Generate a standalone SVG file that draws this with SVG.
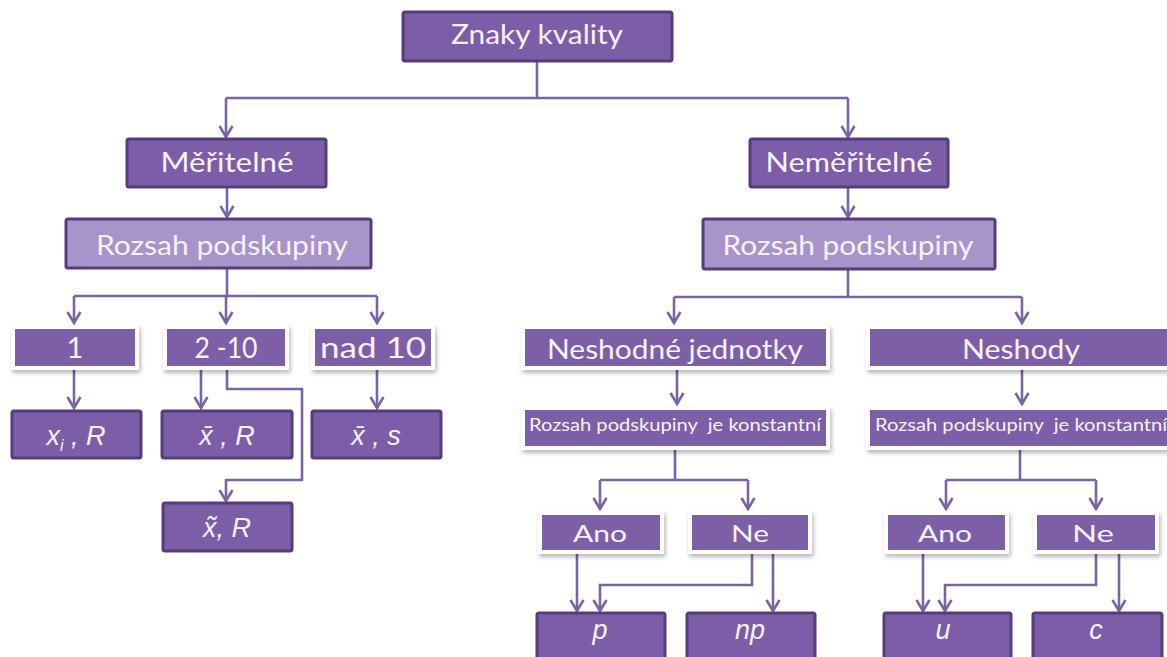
<svg xmlns="http://www.w3.org/2000/svg" width="1167" height="657" viewBox="0 0 1167 657">
<defs>
<style>
.dk{fill:#7b5ea7;stroke:#563c7c;stroke-width:3}
.lt{fill:#a894c9;stroke:#563c7c;stroke-width:3}
.wb{fill:#7b5ea7;stroke:#ffffff;stroke-width:4;filter:url(#sh)}
.t{font-family:Lato,"Liberation Sans",sans-serif;fill:#f7f1fa;text-anchor:middle}
.it{font-family:"Liberation Sans","DejaVu Sans",sans-serif;font-style:italic;font-size:27px;fill:#f7f1fa;text-anchor:middle}
.c{fill:none;stroke:#7a64a2;stroke-width:2.6}
</style>
<filter id="sh" x="-10%" y="-20%" width="120%" height="150%">
<feDropShadow dx="1.5" dy="3" stdDeviation="2" flood-color="#000" flood-opacity="0.28"/>
</filter>
<marker id="ah" viewBox="-13 -8 15 16" refX="0" refY="0" markerWidth="15" markerHeight="16" markerUnits="userSpaceOnUse" orient="auto">
<path d="M-11,-6.5 L0,0 L-11,6.5" fill="none" stroke="#7a64a2" stroke-width="2.6"/>
</marker>
</defs>
<rect width="1167" height="657" fill="#ffffff"/>

<g id="connectors">
<path class="c" d="M537,61 V98"/>
<path class="c" d="M226,98 H848"/>
<path class="c" d="M226,98 V137" marker-end="url(#ah)"/>
<path class="c" d="M848,98 V137" marker-end="url(#ah)"/>
<path class="c" d="M227,187 V217" marker-end="url(#ah)"/>
<path class="c" d="M848,187 V217" marker-end="url(#ah)"/>
<path class="c" d="M227,268 V296"/>
<path class="c" d="M74,296 H377"/>
<path class="c" d="M74,296 V323" marker-end="url(#ah)"/>
<path class="c" d="M226,296 V323" marker-end="url(#ah)"/>
<path class="c" d="M377,296 V323" marker-end="url(#ah)"/>
<path class="c" d="M74,369 V408" marker-end="url(#ah)"/>
<path class="c" d="M201,369 V408" marker-end="url(#ah)"/>
<path class="c" d="M377,369 V408" marker-end="url(#ah)"/>
<path class="c" d="M227,369 V389 H302 V480 H226 V501" marker-end="url(#ah)"/>
<path class="c" d="M848,269 V297"/>
<path class="c" d="M674,297 H1022"/>
<path class="c" d="M674,297 V323" marker-end="url(#ah)"/>
<path class="c" d="M1022,297 V323" marker-end="url(#ah)"/>
<path class="c" d="M677,369 V404" marker-end="url(#ah)"/>
<path class="c" d="M1022,369 V404" marker-end="url(#ah)"/>
<path class="c" d="M675,449 V480"/>
<path class="c" d="M600,480 H748"/>
<path class="c" d="M600,480 V509" marker-end="url(#ah)"/>
<path class="c" d="M748,480 V509" marker-end="url(#ah)"/>
<path class="c" d="M577,553 V611" marker-end="url(#ah)"/>
<path class="c" d="M752,553 V585 H600 V611" marker-end="url(#ah)"/>
<path class="c" d="M773,553 V611" marker-end="url(#ah)"/>
<path class="c" d="M1020,449 V480"/>
<path class="c" d="M946,480 H1096"/>
<path class="c" d="M946,480 V509" marker-end="url(#ah)"/>
<path class="c" d="M1096,480 V509" marker-end="url(#ah)"/>
<path class="c" d="M923,553 V611" marker-end="url(#ah)"/>
<path class="c" d="M1096,553 V585 H945 V611" marker-end="url(#ah)"/>
<path class="c" d="M1119,553 V611" marker-end="url(#ah)"/>
</g>

<g id="znaky-kvality">
<rect class="dk" x="403" y="12" width="269" height="49" rx="2"/>
<text class="t" font-size="26" x="537" y="44" textLength="172" lengthAdjust="spacingAndGlyphs">Znaky kvality</text>
</g>
<g id="meritelne">
<rect class="dk" x="127" y="139" width="199" height="48" rx="2"/>
<text class="t" font-size="27" x="227" y="172" textLength="133" lengthAdjust="spacingAndGlyphs">Měřitelné</text>
</g>
<g id="nemeritelne">
<rect class="dk" x="750" y="139" width="198" height="48" rx="2"/>
<text class="t" font-size="27" x="849" y="172" textLength="167" lengthAdjust="spacingAndGlyphs">Neměřitelné</text>
</g>
<g id="rozsah-left">
<rect class="lt" x="66" y="219" width="305" height="49" rx="2"/>
<text class="t" font-size="27" x="222" y="255" textLength="252" lengthAdjust="spacingAndGlyphs">Rozsah podskupiny</text>
</g>
<g id="rozsah-right">
<rect class="lt" x="703" y="219" width="292" height="50" rx="2"/>
<text class="t" font-size="27" x="848" y="255" textLength="251" lengthAdjust="spacingAndGlyphs">Rozsah podskupiny</text>
</g>
<g id="n1">
<rect class="wb" x="13" y="327" width="124" height="41"/>
<text class="t" font-size="29" x="75" y="358">1</text>
</g>
<g id="n2-10">
<rect class="wb" x="165" y="327" width="122" height="41"/>
<text class="t" font-size="29" x="226" y="358" textLength="63" lengthAdjust="spacingAndGlyphs">2 -10</text>
</g>
<g id="nad10">
<rect class="wb" x="313" y="327" width="120" height="41"/>
<text class="t" font-size="29" x="373" y="358" textLength="106" lengthAdjust="spacingAndGlyphs">nad 10</text>
</g>
<g id="xi-R">
<rect class="dk" x="12" y="411" width="129" height="47" rx="2"/>
<text class="it" x="76" y="445">x<tspan font-size="16" dy="6">i</tspan><tspan dy="-6"> , R</tspan></text>
</g>
<g id="xbar-R">
<rect class="dk" x="162" y="411" width="130" height="47" rx="2"/>
<text class="it" x="227" y="445">x̄ , R</text>
</g>
<g id="xbar-s">
<rect class="dk" x="312" y="411" width="129" height="47" rx="2"/>
<text class="it" x="376" y="445">x̄ , s</text>
</g>
<g id="xtilde-R">
<rect class="dk" x="163" y="503" width="129" height="48" rx="2"/>
<text class="it" x="227" y="537">x̃, R</text>
</g>
<g id="neshodne-jednotky">
<rect class="wb" x="523" y="327" width="305" height="41"/>
<text class="t" font-size="27" x="675" y="359" textLength="256" lengthAdjust="spacingAndGlyphs">Neshodné jednotky</text>
</g>
<g id="neshody">
<rect class="wb" x="868" y="327" width="310" height="41"/>
<text class="t" font-size="27" x="1021" y="359" textLength="118" lengthAdjust="spacingAndGlyphs">Neshody</text>
</g>
<g id="konst-left">
<rect class="wb" x="523" y="408" width="305" height="40"/>
<text class="t" font-size="16.5" x="675" y="431" xml:space="preserve" textLength="292" lengthAdjust="spacingAndGlyphs">Rozsah podskupiny  je konstantní</text>
</g>
<g id="konst-right">
<rect class="wb" x="868" y="408" width="310" height="40"/>
<text class="t" font-size="16.5" x="1021" y="431" xml:space="preserve" textLength="292" lengthAdjust="spacingAndGlyphs">Rozsah podskupiny  je konstantní</text>
</g>
<g id="ano-left">
<rect class="wb" x="540" y="513" width="122" height="39"/>
<text class="t" font-size="24" x="600" y="542" textLength="54" lengthAdjust="spacingAndGlyphs">Ano</text>
</g>
<g id="ne-left">
<rect class="wb" x="690" y="513" width="120" height="39"/>
<text class="t" font-size="24" x="750" y="542" textLength="38" lengthAdjust="spacingAndGlyphs">Ne</text>
</g>
<g id="ano-right">
<rect class="wb" x="886" y="513" width="121" height="39"/>
<text class="t" font-size="24" x="945" y="542" textLength="54" lengthAdjust="spacingAndGlyphs">Ano</text>
</g>
<g id="ne-right">
<rect class="wb" x="1035" y="513" width="122" height="39"/>
<text class="t" font-size="24" x="1093" y="542" textLength="42" lengthAdjust="spacingAndGlyphs">Ne</text>
</g>
<g id="p">
<rect class="dk" x="537" y="613" width="128" height="50" rx="2"/>
<text class="it" x="600" y="639">p</text>
</g>
<g id="np">
<rect class="dk" x="687" y="613" width="128" height="50" rx="2"/>
<text class="it" x="750" y="639">np</text>
</g>
<g id="u">
<rect class="dk" x="884" y="613" width="127" height="50" rx="2"/>
<text class="it" x="943" y="639">u</text>
</g>
<g id="c">
<rect class="dk" x="1033" y="613" width="129" height="50" rx="2"/>
<text class="it" x="1096" y="639">c</text>
</g>
</svg>
